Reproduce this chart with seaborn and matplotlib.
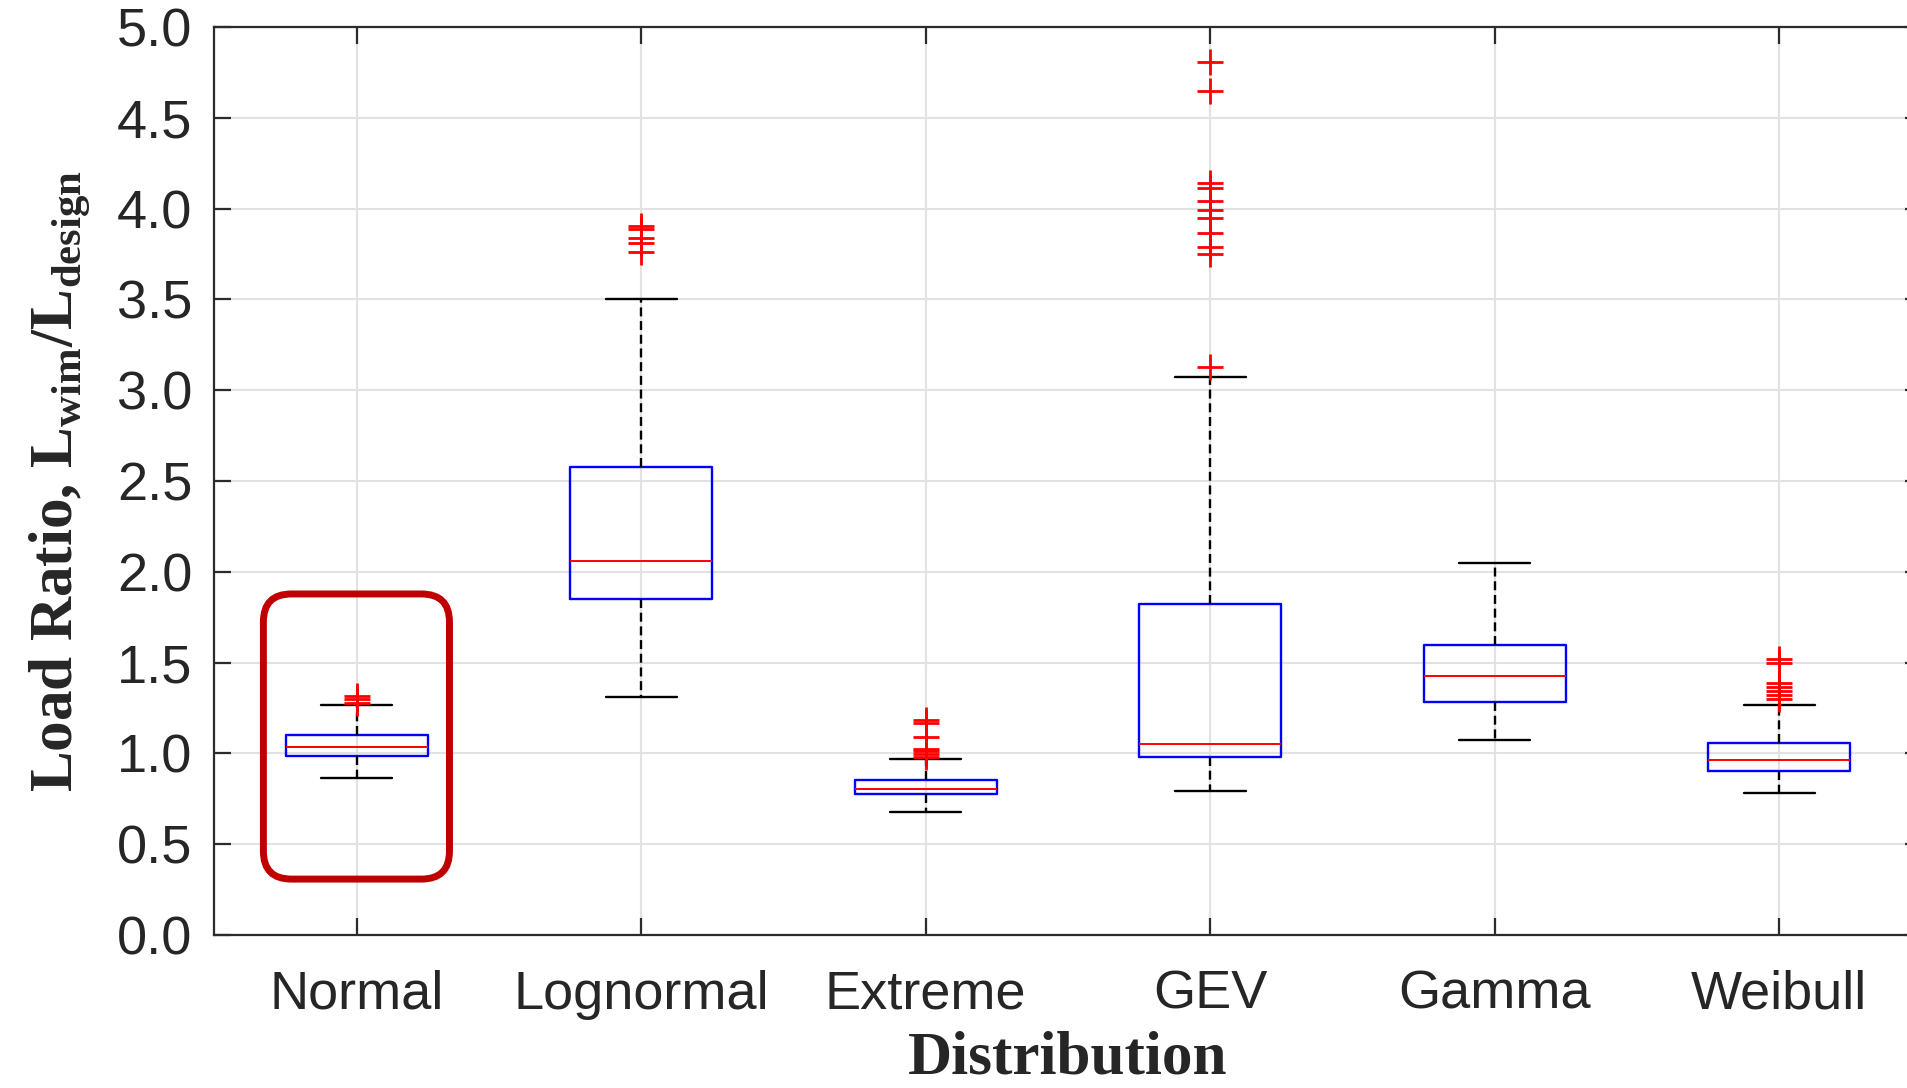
import numpy as np
import pandas as pd
import matplotlib
matplotlib.use("Agg")
import matplotlib.pyplot as plt
from matplotlib.patches import FancyBboxPatch
import seaborn as sns

# ---- data (box statistics per distribution) ----
categories = ["Normal", "Lognormal", "Extreme", "GEV", "Gamma", "Weibull"]
q1_vals = [0.985, 1.851, 0.776, 0.980, 1.283, 0.905]
median_vals = [1.033, 2.061, 0.805, 1.050, 1.427, 0.963]
q3_vals = [1.101, 2.576, 0.855, 1.822, 1.599, 1.055]
whisker_low = [0.866, 1.311, 0.679, 0.794, 1.074, 0.782]
whisker_high = [1.268, 3.502, 0.972, 3.070, 2.046, 1.269]
outliers_normal = [1.280, 1.297, 1.316]
outliers_lognormal = [3.759, 3.811, 3.836, 3.888, 3.904]
outliers_extreme = [0.981, 0.996, 1.011, 1.026, 1.088, 1.167, 1.185]
outliers_gev = [3.125, 3.749, 3.786, 3.863, 3.949, 3.991, 4.041, 4.116, 4.142, 4.645, 4.807]
outliers_gamma = []
outliers_weibull = [1.300, 1.321, 1.344, 1.366, 1.388, 1.500, 1.520]
outliers_all = [outliers_normal, outliers_lognormal, outliers_extreme,
                outliers_gev, outliers_gamma, outliers_weibull]
yticks = [0.0, 0.5, 1.0, 1.5, 2.0, 2.5, 3.0, 3.5, 4.0, 4.5, 5.0]


def build_sample(lo, q1, med, q3, hi, outs):
    """Sample (4k+1 values) whose percentiles reproduce the read box statistics."""
    m = len(outs)
    k = m + 1
    return [lo] + [q1] * k + [med] * k + [q3] * k + [hi] * (k - m) + sorted(outs)


rows = []
for i, cat in enumerate(categories):
    vals = build_sample(whisker_low[i], q1_vals[i], median_vals[i], q3_vals[i],
                        whisker_high[i], outliers_all[i])
    rows += [(cat, v) for v in vals]
df = pd.DataFrame(rows, columns=["Distribution", "Ratio"])

# ---- style ----
sns.set_style("ticks")
plt.rcParams["font.family"] = ["Liberation Sans", "DejaVu Sans"]

fig = plt.figure(figsize=(19.08, 10.88), dpi=100)
ax = fig.add_axes([0.1124, 0.1406, 0.8947, 0.8346])

sns.boxplot(
    data=df, x="Distribution", y="Ratio", order=categories, width=0.5,
    fill=False, whis=1.5, color="blue", linewidth=1.7, ax=ax,
    boxprops=dict(color="blue", linewidth=1.7),
    medianprops=dict(color="red", linewidth=1.4),
    whiskerprops=dict(color="black", linewidth=1.7, linestyle=(0, (3.8, 2.0))),
    capprops=dict(color="black", linewidth=1.7),
    flierprops=dict(marker="+", markersize=19, markeredgecolor="red",
                    markerfacecolor="red", markeredgewidth=2.0),
)

ax.set_xlim(-0.5, len(categories) - 0.5)
ax.set_ylim(0, 5)
ax.set_yticks(yticks)
ax.set_yticklabels([f"{t:.1f}" for t in yticks])

ax.grid(True, color="#e2e2e2", linewidth=1.5)
ax.set_axisbelow(True)

spine_color = "#2b2b2b"
for s in ax.spines.values():
    s.set_visible(True)
    s.set_color(spine_color)
    s.set_linewidth(1.6)

ax.tick_params(axis="both", direction="in", length=12, width=1.6, color=spine_color,
               top=True, right=True, labelsize=39, labelcolor="#262626")
ax.tick_params(axis="x", pad=25)
ax.tick_params(axis="y", pad=16)

ax.set_xlabel("Distribution", fontfamily="Liberation Serif", fontweight="bold",
              fontsize=44, color="#262626")
ax.set_ylabel(r"Load Ratio, L$_{\mathregular{wim}}$/L$_{\mathregular{design}}$",
              fontfamily="Liberation Serif", fontweight="bold", fontsize=44,
              color="#262626")
ax.xaxis.set_label_coords(0.5, -0.105)
ax.yaxis.set_label_coords(-0.071, 0.5)

# ---- highlight box around the "Normal" distribution ----
fig.canvas.draw()
hl_x = (-0.328, 0.326)
hl_y = (0.308, 1.878)
(px0, py0) = ax.transData.transform((hl_x[0], hl_y[0]))
(px1, py1) = ax.transData.transform((hl_x[1], hl_y[1]))
highlight = FancyBboxPatch((px0, py0), px1 - px0, py1 - py0,
                           boxstyle="round,pad=0,rounding_size=28",
                           transform=None, facecolor="none", edgecolor="#c00000",
                           linewidth=5, zorder=10, clip_on=False)
fig.patches.append(highlight)
highlight.set_figure(fig)

fig.savefig("out.png", dpi=100, facecolor="white")
